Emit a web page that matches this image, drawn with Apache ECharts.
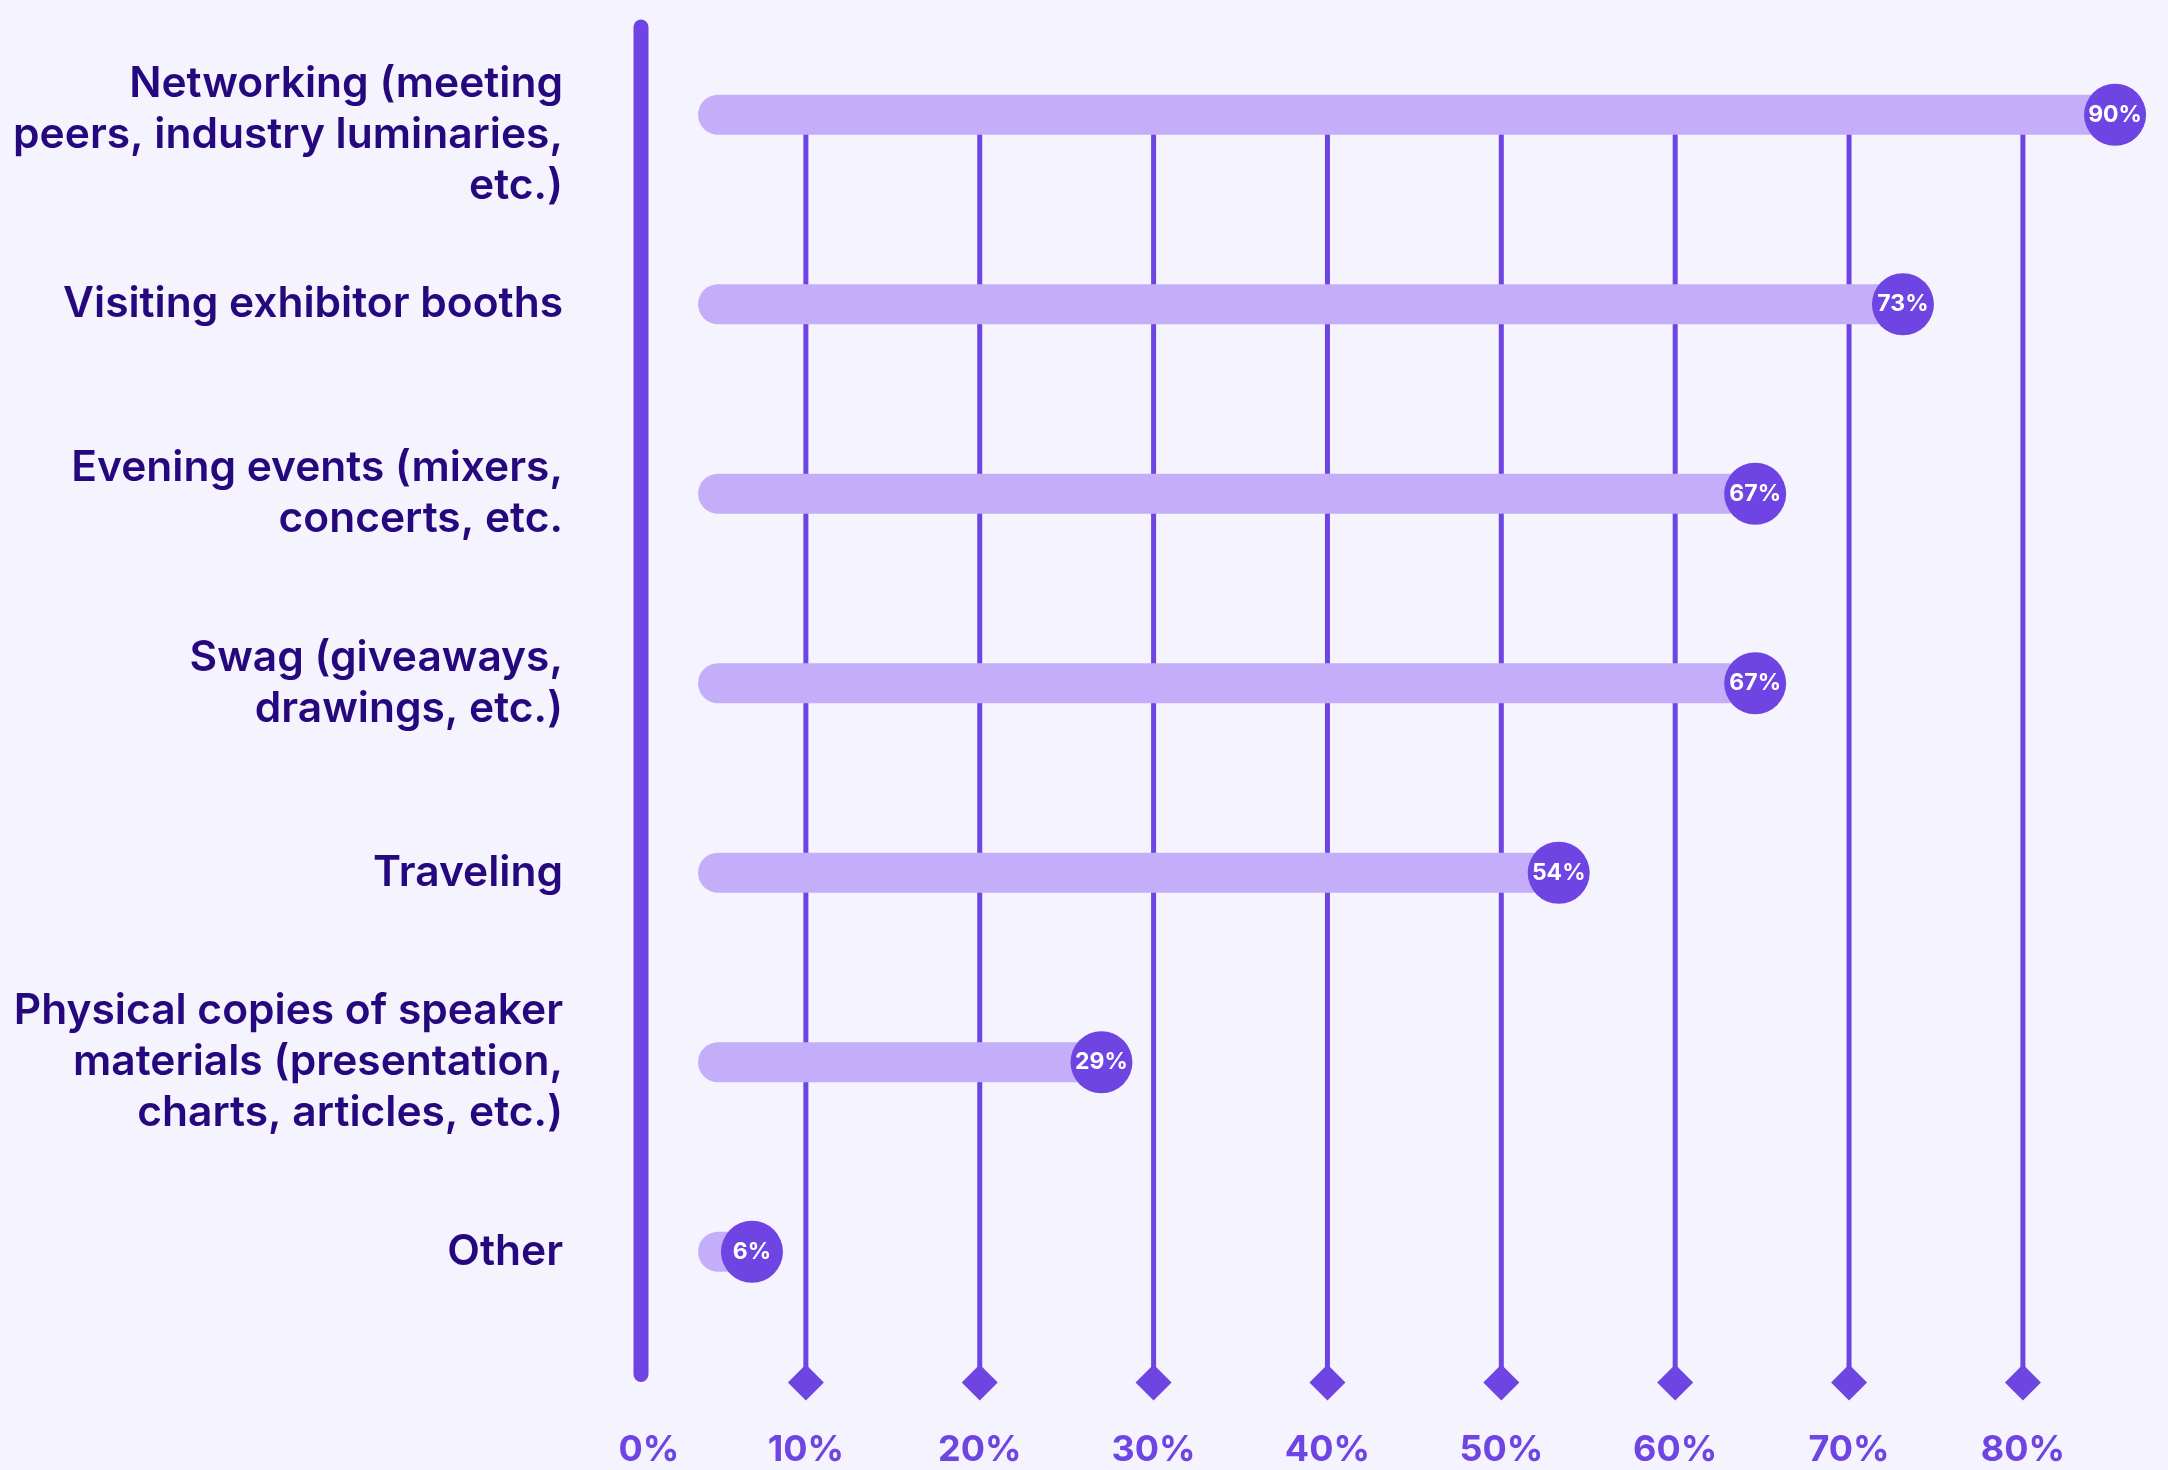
<!DOCTYPE html>
<html lang="en">
<head>
    <meta charset="UTF-8">
    <title>Conference activities</title>
    <script src="https://cdn.jsdelivr.net/npm/echarts@6.0.0/dist/echarts.min.js"></script>
    <style>
        html, body {
            margin: 0;
            border: 0;
            background: #f5f3fe;
        }

        #chart {
            width: 2168px;
            height: 1470px;
        }
    </style>
</head>
<body>
<div id="chart"></div>
<script type="text/javascript">
    const categories = [
        'Networking (meeting\npeers, industry luminaries,\netc.)',
        'Visiting exhibitor booths',
        'Evening events (mixers,\nconcerts, etc.',
        'Swag (giveaways,\ndrawings, etc.)',
        'Traveling',
        'Physical copies of speaker\nmaterials (presentation,\ncharts, articles, etc.)',
        'Other'
    ];
    // printed percentages
    const shares = [90, 73, 67, 67, 54, 29, 6];
    // where each marker actually sits on the 0-80% axis
    const markerPos = [85.3, 73.1, 64.6, 64.6, 53.3, 27.0, 6.9];
    const tickValues = [10, 20, 30, 40, 50, 60, 70, 80];

    const PURPLE = '#6e44e2';
    const LILAC = '#c4aefa';
    const INK = '#26087e';
    const TRACK_START = 3.8;

    const labelFont = {
        color: INK,
        fontFamily: 'Inter',
        fontSize: 42.5,
        fontWeight: 600,
        lineHeight: 51,
        align: 'right'
    };

    window.onload = () => {
        const chart = echarts.init(document.querySelector('#chart'));

        const guide = (params, api) => {
            const sys = params.coordSys;
            const x = api.coord([api.value(0), 0])[0];
            const top = api.coord([0, 0])[1];
            const y = sys.y + sys.height + 36;
            return {
                type: 'group',
                children: [
                    {
                        type: 'line',
                        shape: {x1: x, y1: top, x2: x, y2: y},
                        style: {stroke: PURPLE, lineWidth: 5}
                    },
                    {
                        type: 'polygon',
                        shape: {points: [[x, y - 18], [x + 18, y], [x, y + 18], [x - 18, y]]},
                        style: {fill: PURPLE}
                    }
                ]
            };
        };

        const spine = (params, api) => {
            const sys = params.coordSys;
            const x = api.coord([0, 0])[0] + 9;
            return {
                type: 'line',
                shape: {x1: x, y1: sys.y + 7, x2: x, y2: sys.y + sys.height + 28},
                style: {stroke: PURPLE, lineWidth: 15, lineCap: 'round'}
            };
        };

        const option = {
            backgroundColor: '#f5f3fe',
            animation: false,
            grid: {
                left: 632,
                right: 6,
                top: 20,
                bottom: 123.5,
                outerBoundsMode: 'none'
            },
            xAxis: {
                type: 'value',
                min: 0,
                max: 88,
                interval: 10,
                axisLine: {show: false},
                axisTick: {show: false},
                splitLine: {show: false},
                axisLabel: {
                    showMaxLabel: false,
                    margin: 86,
                    color: PURPLE,
                    fontFamily: 'Inter',
                    fontSize: 36,
                    fontWeight: 700,
                    formatter: v => v === 0 ? '{z|0%}' : v + '%',
                    rich: {
                        z: {
                            color: PURPLE,
                            fontFamily: 'Inter',
                            fontSize: 36,
                            fontWeight: 700,
                            padding: [0, 0, 0, 34]
                        }
                    }
                }
            },
            yAxis: {
                type: 'category',
                inverse: true,
                data: categories,
                axisLine: {show: false},
                axisTick: {show: false},
                splitLine: {show: false},
                axisLabel: Object.assign({
                    margin: 69,
                    // the first label hangs a little below its bar
                    formatter: (v, i) => i === 0
                        ? '{gap| }\n' + v.split('\n').map(l => '{t|' + l + '}').join('\n')
                        : v,
                    rich: {
                        gap: {fontSize: 10, lineHeight: 40},
                        t: labelFont
                    }
                }, labelFont)
            },
            series: [
                {
                    type: 'custom',
                    silent: true,
                    z: 1,
                    renderItem: guide,
                    data: tickValues.map(v => [v, 0])
                },
                {
                    type: 'custom',
                    silent: true,
                    z: 1,
                    renderItem: spine,
                    data: [[0, 0]]
                },
                {
                    type: 'bar',
                    stack: 'track',
                    silent: true,
                    z: 2,
                    barWidth: 40,
                    itemStyle: {color: 'transparent'},
                    data: categories.map(() => TRACK_START)
                },
                {
                    type: 'bar',
                    stack: 'track',
                    silent: true,
                    z: 2,
                    barWidth: 40,
                    itemStyle: {color: LILAC, borderRadius: 20},
                    data: markerPos.map(v => +(v - TRACK_START).toFixed(2))
                },
                {
                    type: 'scatter',
                    silent: true,
                    z: 3,
                    symbol: 'circle',
                    symbolSize: 62,
                    itemStyle: {color: PURPLE, opacity: 1},
                    label: {
                        show: true,
                        position: 'inside',
                        color: '#ffffff',
                        fontFamily: 'Inter',
                        fontSize: 23,
                        fontWeight: 700,
                        formatter: p => shares[p.dataIndex] + '%'
                    },
                    data: markerPos.map((v, i) => [v, i])
                }
            ]
        };
        chart.setOption(option);
    };
</script>
</body>
</html>
